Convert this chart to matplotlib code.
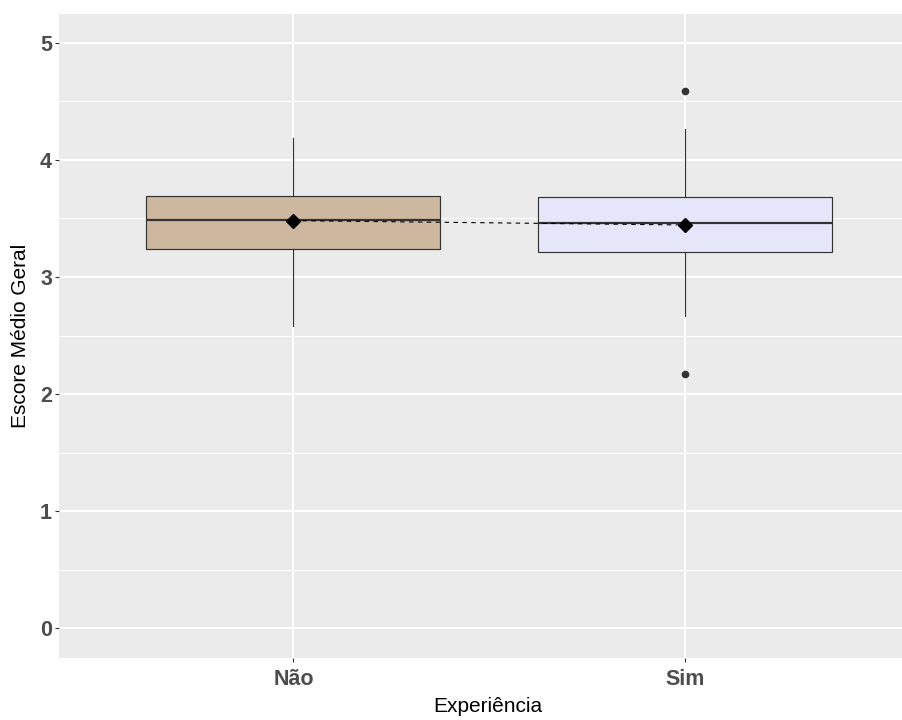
import matplotlib
matplotlib.use("Agg")
import matplotlib.pyplot as plt
from matplotlib.ticker import MultipleLocator

# Data
categories = ["Não", "Sim"]
q1 = [3.24, 3.21]
medians = [3.487, 3.464]
q3 = [3.69, 3.684]
whisker_low = [2.58, 2.664]
whisker_high = [4.19, 4.265]
outliers = [[], [4.59, 2.171]]
means = [3.481, 3.444]
fill_colors = ["#CDB79E", "#E6E6FA"]

yticks = [0, 1, 2, 3, 4, 5]

plt.rcParams['font.family'] = ['Liberation Sans', 'DejaVu Sans']

W, H = 903, 720
fig = plt.figure(figsize=(W / 100, H / 100), dpi=100)
left, right, top, bottom = 59, 903, 13.5, 657.5
ax = fig.add_axes([left / W, 1 - bottom / H, (right - left) / W, (bottom - top) / H])

ax.set_facecolor("#EBEBEB")
for s in ax.spines.values():
    s.set_visible(False)

positions = list(range(1, len(categories) + 1))
stats = []
for i, c in enumerate(categories):
    stats.append(dict(label=c, med=medians[i], q1=q1[i], q3=q3[i],
                      whislo=whisker_low[i], whishi=whisker_high[i],
                      fliers=outliers[i], mean=means[i]))

edge = "#333333"
bp = ax.bxp(stats, positions=positions, widths=0.75, showcaps=False,
            showmeans=False, patch_artist=True,
            boxprops=dict(edgecolor=edge, linewidth=0.85),
            whiskerprops=dict(color=edge, linewidth=0.85),
            medianprops=dict(color=edge, linewidth=1.6, solid_capstyle='butt'),
            flierprops=dict(marker='o', markersize=4.5, markerfacecolor=edge,
                            markeredgecolor=edge, linestyle='none'),
            zorder=3)
for patch, col in zip(bp['boxes'], fill_colors):
    patch.set_facecolor(col)

# dashed line connecting means and mean markers
ax.plot(positions, means, color="black", linewidth=0.8, linestyle=(0, (4, 4)), zorder=4)
ax.plot(positions, means, linestyle='none', marker='D', markersize=7,
        color="black", zorder=5)

ax.set_xlim(1 - (293.5 - left) / 392, 2 + (right - 685.5) / 392)
ax.set_ylim(-0.25, 5.25)
ax.set_xticks(positions)
ax.set_xticklabels(categories)
ax.set_yticks(yticks)
ax.yaxis.set_minor_locator(MultipleLocator(0.5))

ax.grid(which='major', color='white', linewidth=1.45, zorder=0)
ax.grid(which='minor', axis='y', color='white', linewidth=0.72, zorder=0)
ax.set_axisbelow(True)

ax.tick_params(axis='both', which='major', length=3, width=0.8, color=edge,
               labelcolor="#4D4D4D", labelsize=15.5)
ax.tick_params(axis='x', which='major', pad=5)
ax.tick_params(axis='y', which='major', pad=2)
ax.tick_params(axis='both', which='minor', length=0)
for lab in ax.get_xticklabels() + ax.get_yticklabels():
    lab.set_fontweight('bold')

ax.set_xlabel("Experiência", fontsize=15, color="black")
ax.set_ylabel("Escore Médio Geral", fontsize=15, color="black")
ax.xaxis.set_label_coords((488 - left) / (right - left), -39 / (bottom - top))
ax.yaxis.set_label_coords(-29 / (right - left), 0.5)

fig.savefig("out.png", dpi=100, facecolor="white")
